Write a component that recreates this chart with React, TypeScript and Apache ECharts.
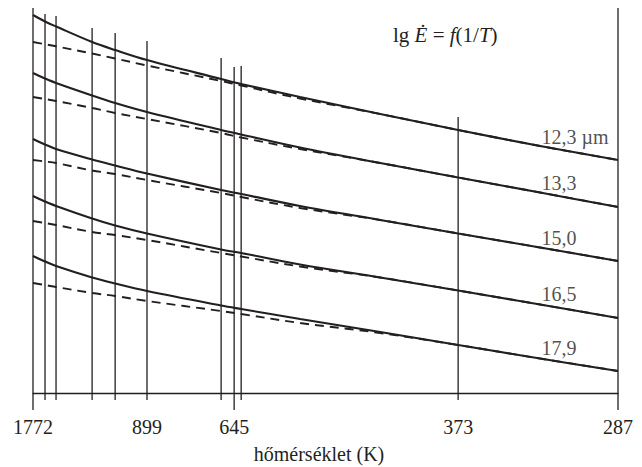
import React, { useEffect, useRef } from "react";
import * as echarts from "echarts";

const sampleX = [0.564, 0.624, 0.679, 0.859, 0.974, 1.133, 1.503, 1.603, 1.897, 2.297, 2.686, 3.095, 3.484];

// lg Ė (relative units) for each wavelength – solid curves
const solid123 = [3.78, 3.715, 3.665, 3.51, 3.43, 3.33, 3.14, 3.09, 2.96, 2.79, 2.63, 2.47, 2.33];
const solid133 = [3.2, 3.145, 3.1, 2.975, 2.9, 2.81, 2.63, 2.585, 2.455, 2.3, 2.155, 2.005, 1.86];
const solid150 = [2.54, 2.485, 2.44, 2.335, 2.275, 2.195, 2.03, 1.99, 1.87, 1.73, 1.595, 1.455, 1.32];
const solid165 = [1.97, 1.915, 1.87, 1.745, 1.675, 1.595, 1.435, 1.4, 1.285, 1.155, 1.025, 0.885, 0.75];
const solid179 = [1.37, 1.315, 1.27, 1.155, 1.095, 1.02, 0.875, 0.84, 0.74, 0.61, 0.48, 0.345, 0.22];

// dashed curves
const dashed123 = [3.51, 3.488, 3.467, 3.395, 3.345, 3.275, 3.12, 3.075, 2.945, 2.79, 2.63, 2.47, 2.33];
const dashed133 = [2.96, 2.94, 2.92, 2.85, 2.8, 2.74, 2.6, 2.555, 2.44, 2.3, 2.155, 2.005, 1.86];
const dashed150 = [2.33, 2.315, 2.3, 2.225, 2.19, 2.13, 2.0, 1.96, 1.85, 1.73, 1.595, 1.455, 1.32];
const dashed165 = [1.72, 1.7, 1.68, 1.61, 1.58, 1.53, 1.4, 1.365, 1.265, 1.155, 1.025, 0.885, 0.75];
const dashed179 = [1.1, 1.08, 1.06, 1.0, 0.97, 0.92, 0.82, 0.79, 0.7, 0.6, 0.48, 0.345, 0.22];

const curveNames = ["12,3 µm", "13,3", "15,0", "16,5", "17,9"];
const labelY = [2.56, 2.1, 1.55, 0.99, 0.45];
const labelX = 3.1;

// vertical temperature markers: position (1000/T), top of the line, long tick?
const markerX = [0.564, 0.624, 0.679, 0.859, 0.974, 1.133, 1.503, 1.568, 1.603, 2.686, 3.484];
const markerTop = [3.85, 3.79, 3.77, 3.65, 3.6, 3.52, 3.35, 3.26, 3.27, 2.76, 3.85];
const markerLong = [true, false, false, false, false, false, false, true, false, false, true];

const tickX = [0.564, 1.133, 1.568, 2.686, 3.484];
const tickLabels = ["1772", "899", "645", "373", "287"];

const INK = "#231f20";
const FONT = "Liberation Serif";

export default function App() {
  const ref = useRef<HTMLDivElement>(null);
  useEffect(() => {
    if (!ref.current) return;
    const chart = echarts.init(ref.current, undefined, { renderer: "svg" });
    const solids = [solid123, solid133, solid150, solid165, solid179];
    const dashes = [dashed123, dashed133, dashed150, dashed165, dashed179];
    const series: any[] = [];
    solids.forEach((ys, i) => {
      series.push({
        type: "line",
        name: curveNames[i],
        data: sampleX.map((x, j) => [x, ys[j]]),
        smooth: 0.35,
        showSymbol: false,
        lineStyle: { color: INK, width: 2.1 },
        z: 3,
      });
    });
    dashes.forEach((ys, i) => {
      series.push({
        type: "line",
        name: curveNames[i] + " (dashed)",
        data: sampleX.map((x, j) => [x, ys[j]]),
        smooth: 0.35,
        showSymbol: false,
        lineStyle: { color: INK, width: 1.9, type: [9, 6] },
        z: 3,
      });
    });
    markerX.forEach((x, i) => {
      series.push({
        type: "line",
        data: [
          [x, markerLong[i] ? -0.17 : -0.07],
          [x, markerTop[i]],
        ],
        clip: false,
        showSymbol: false,
        lineStyle: { color: INK, width: 1.3 },
        z: 2,
      });
    });
    series.push({
      type: "scatter",
      data: curveNames.map((n, i) => ({ name: n, value: [labelX, labelY[i]] })),
      symbolSize: 1,
      itemStyle: { color: "rgba(0,0,0,0)" },
      label: {
        show: true,
        formatter: (p: any) => p.name,
        position: "right",
        distance: 0,
        color: INK,
        fontFamily: FONT,
        fontSize: 20,
        align: "left",
        verticalAlign: "middle",
      },
      z: 4,
    });

    chart.setOption({
      animation: false,
      backgroundColor: "#fff",
      grid: {
        left: 33,
        right: 24,
        top: 8,
        bottom: 74,
        containLabel: false,
        outerBoundsMode: "none",
      },
      xAxis: {
        type: "value",
        min: 0.564,
        max: 3.484,
        axisLine: { show: true, lineStyle: { color: INK, width: 1.3 } },
        axisTick: { show: false },
        splitLine: { show: false },
        axisLabel: {
          customValues: tickX,
          formatter: (v: number) => {
            let best = 0;
            tickX.forEach((t, i) => {
              if (Math.abs(t - v) < Math.abs(tickX[best] - v)) best = i;
            });
            return tickLabels[best];
          },
          color: INK,
          fontFamily: FONT,
          fontSize: 20,
          margin: 24,
        },
        name: "hőmérséklet (K)",
        nameLocation: "middle",
        nameGap: 51,
        nameTextStyle: { color: INK, fontFamily: FONT, fontSize: 20, padding: [0, 13, 0, 0] },
      },
      yAxis: {
        type: "value",
        min: 0,
        max: 3.85,
        show: false,
      },
      graphic: [
        {
          type: "text",
          left: 393,
          top: 24,
          style: {
            text: "{r|lg }{i|Ė}{r| = }{i|f}{r|(1/}{i|T}{r|)}",
            rich: {
              r: { fontFamily: FONT, fontSize: 21, fill: INK },
              i: { fontFamily: FONT, fontSize: 21, fontStyle: "italic", fill: INK },
            },
          },
        },
      ],
      series,
    });
    return () => chart.dispose();
  }, []);
  return (
    <div
      ref={ref}
      style={{ position: "fixed", left: 0, top: 0, width: 642, height: 467, background: "#fff" }}
    />
  );
}
